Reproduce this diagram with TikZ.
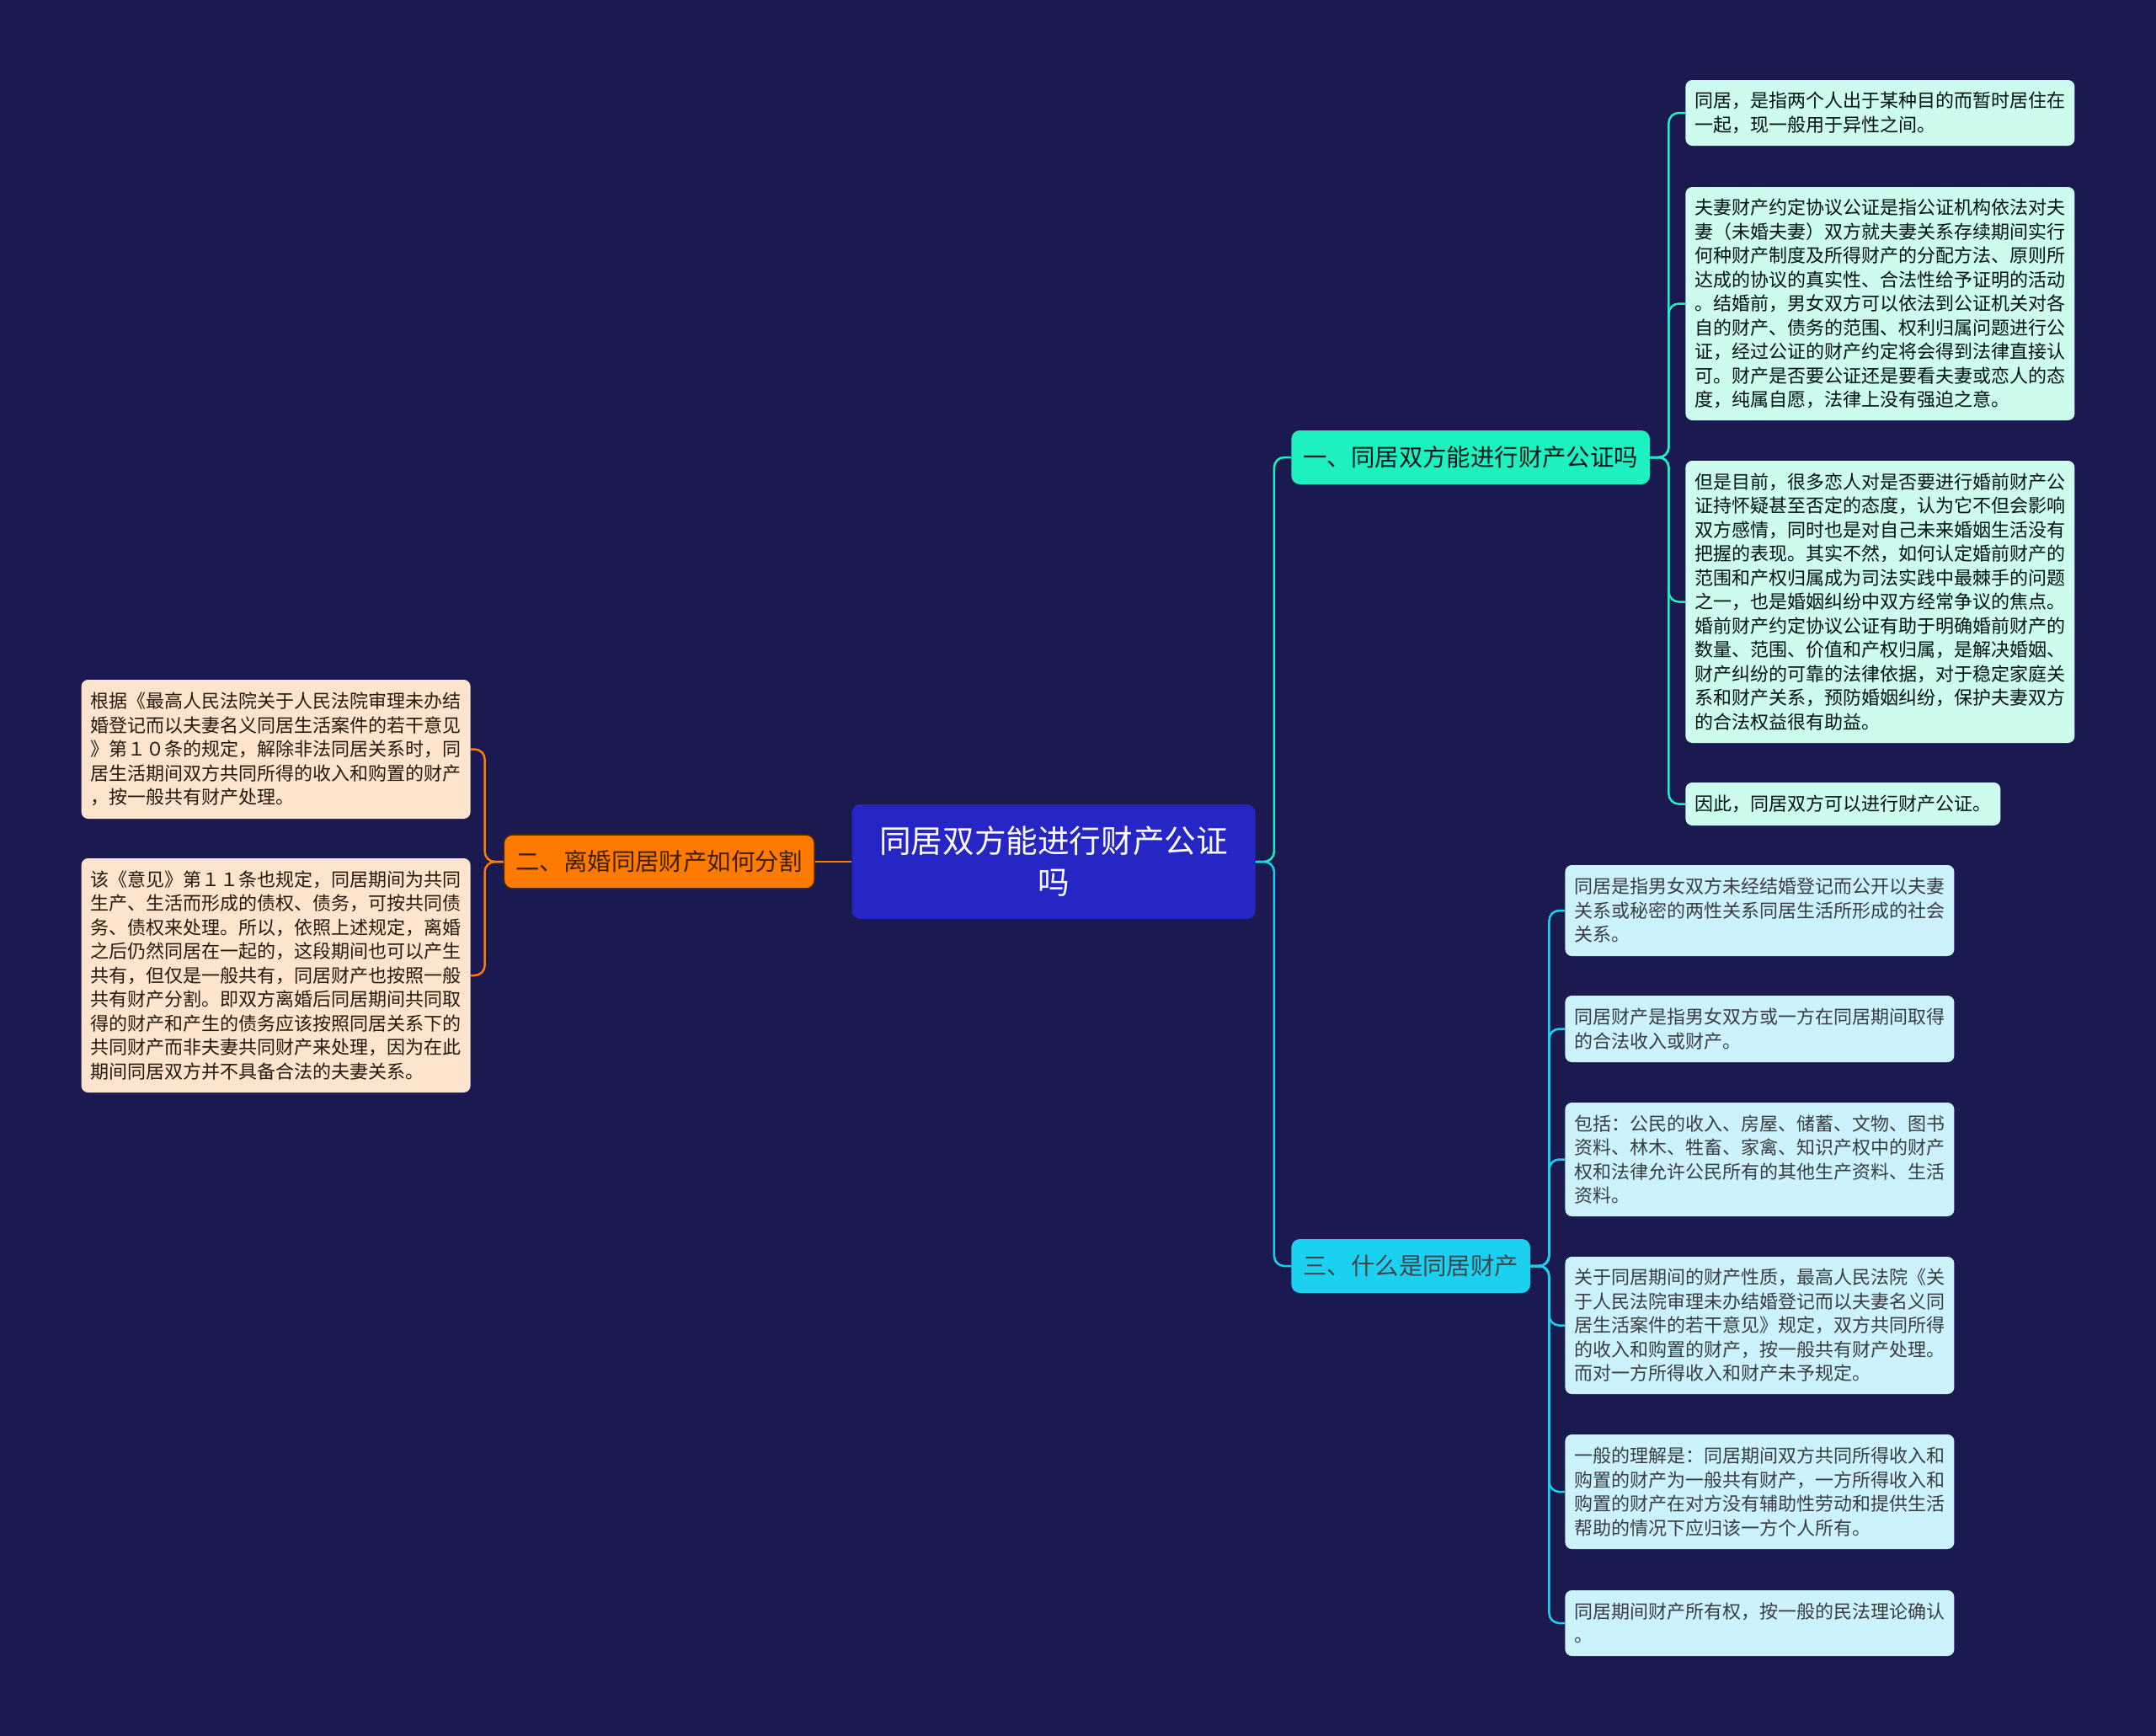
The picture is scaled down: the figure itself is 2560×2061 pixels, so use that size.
\documentclass[tikz,border=0pt]{standalone}
\usepackage{fontspec}
\setmainfont{Noto Sans CJK SC}
\usepackage{xcolor}
\usepackage{tikz}

\definecolor{bgnavy}{HTML}{1B1A50}
\definecolor{rootblue}{HTML}{2626C4}
\definecolor{mintfill}{HTML}{1EF0BF}
\definecolor{cyanfill}{HTML}{1CD0F0}
\definecolor{orangefill}{HTML}{FF7A00}
\definecolor{mintleaf}{HTML}{CDFBEE}
\definecolor{cyanleaf}{HTML}{CCF3FC}
\definecolor{peachleaf}{HTML}{FDE4CC}

\begin{document}
\begin{tikzpicture}[x=0.5pt,y=-0.5pt,
  every node/.style={font=\fontsize{11pt}{14.25pt}\selectfont},
  rootbox/.style={fill=rootblue,text=white,rounded corners=5pt,minimum width=239.5pt,minimum height=68pt,align=center,font=\fontsize{18.8pt}{24.5pt}\selectfont},
  branch/.style={rounded corners=5pt,minimum height=32pt,inner xsep=7pt,font=\fontsize{14.2pt}{17pt}\selectfont},
  leaf/.style={rounded corners=4pt,inner xsep=5.5pt,inner ysep=0pt,align=left},
  link/.style={line width=1.25pt,rounded corners=6pt}]
\fill[bgnavy] (0,0) rectangle (2560,2061);

% centre and main branches
\node[rootbox] (root) at (1251,1023) {同居双方能进行财产公证\\吗};
\node[branch,fill=mintfill,text=black!80!teal,anchor=west] (b1) at (1533,543) {一、同居双方能进行财产公证吗};
\node[branch,fill=cyanfill,text=black!80!cyan,anchor=west] (b3) at (1533,1503) {三、什么是同居财产};
\node[branch,fill=orangefill,draw=black!70!orange,line width=0.8pt,text=black!75!orange,anchor=east] (b2) at (968,1023) {二、离婚同居财产如何分割};

% leaves of branch one
\node[leaf,fill=mintleaf,text=black!85!teal,anchor=west,minimum height=39pt] (a1) at (2001,134) {同居，是指两个人出于某种目的而暂时居住在\\一起，现一般用于异性之间。};
\node[leaf,fill=mintleaf,text=black!85!teal,anchor=west,minimum height=138.5pt] (a2) at (2001,360.5) {夫妻财产约定协议公证是指公证机构依法对夫\\妻（未婚夫妻）双方就夫妻关系存续期间实行\\何种财产制度及所得财产的分配方法、原则所\\达成的协议的真实性、合法性给予证明的活动\\。结婚前，男女双方可以依法到公证机关对各\\自的财产、债务的范围、权利归属问题进行公\\证，经过公证的财产约定将会得到法律直接认\\可。财产是否要公证还是要看夫妻或恋人的态\\度，纯属自愿，法律上没有强迫之意。};
\node[leaf,fill=mintleaf,text=black!85!teal,anchor=west,minimum height=167.5pt] (a3) at (2001,714.5) {但是目前，很多恋人对是否要进行婚前财产公\\证持怀疑甚至否定的态度，认为它不但会影响\\双方感情，同时也是对自己未来婚姻生活没有\\把握的表现。其实不然，如何认定婚前财产的\\范围和产权归属成为司法实践中最棘手的问题\\之一，也是婚姻纠纷中双方经常争议的焦点。\\婚前财产约定协议公证有助于明确婚前财产的\\数量、范围、价值和产权归属，是解决婚姻、\\财产纠纷的可靠的法律依据，对于稳定家庭关\\系和财产关系，预防婚姻纠纷，保护夫妻双方\\的合法权益很有助益。};
\node[leaf,fill=mintleaf,text=black!85!teal,anchor=west,minimum height=25.5pt] (a4) at (2001,954.5) {因此，同居双方可以进行财产公证。};

% leaves of branch three
\node[leaf,fill=cyanleaf,text=black!85!cyan,anchor=west,minimum height=54pt] (c1) at (1858,1081) {同居是指男女双方未经结婚登记而公开以夫妻\\关系或秘密的两性关系同居生活所形成的社会\\关系。};
\node[leaf,fill=cyanleaf,text=black!85!cyan,anchor=west,minimum height=39.5pt] (c2) at (1858,1221.5) {同居财产是指男女双方或一方在同居期间取得\\的合法收入或财产。};
\node[leaf,fill=cyanleaf,text=black!85!cyan,anchor=west,minimum height=67.5pt] (c3) at (1858,1376.5) {包括：公民的收入、房屋、储蓄、文物、图书\\资料、林木、牲畜、家禽、知识产权中的财产\\权和法律允许公民所有的其他生产资料、生活\\资料。};
\node[leaf,fill=cyanleaf,text=black!85!cyan,anchor=west,minimum height=81.5pt] (c4) at (1858,1573.5) {关于同居期间的财产性质，最高人民法院《关\\于人民法院审理未办结婚登记而以夫妻名义同\\居生活案件的若干意见》规定，双方共同所得\\的收入和购置的财产，按一般共有财产处理。\\而对一方所得收入和财产未予规定。};
\node[leaf,fill=cyanleaf,text=black!85!cyan,anchor=west,minimum height=68pt] (c5) at (1858,1771) {一般的理解是：同居期间双方共同所得收入和\\购置的财产为一般共有财产，一方所得收入和\\购置的财产在对方没有辅助性劳动和提供生活\\帮助的情况下应归该一方个人所有。};
\node[leaf,fill=cyanleaf,text=black!85!cyan,anchor=west,minimum height=39pt] (c6) at (1858,1927) {同居期间财产所有权，按一般的民法理论确认\\。};

% leaves of branch two
\node[leaf,fill=peachleaf,text=black!80!brown,anchor=east,minimum height=82.5pt] (d1) at (559,889.5) {根据《最高人民法院关于人民法院审理未办结\\婚登记而以夫妻名义同居生活案件的若干意见\\》第１０条的规定，解除非法同居关系时，同\\居生活期间双方共同所得的收入和购置的财产\\，按一般共有财产处理。};
\node[leaf,fill=peachleaf,text=black!80!brown,anchor=east,minimum height=139pt] (d2) at (559,1158) {该《意见》第１１条也规定，同居期间为共同\\生产、生活而形成的债权、债务，可按共同债\\务、债权来处理。所以，依照上述规定，离婚\\之后仍然同居在一起的，这段期间也可以产生\\共有，但仅是一般共有，同居财产也按照一般\\共有财产分割。即双方离婚后同居期间共同取\\得的财产和产生的债务应该按照同居关系下的\\共同财产而非夫妻共同财产来处理，因为在此\\期间同居双方并不具备合法的夫妻关系。};

% connectors
\draw[link,mintfill] (root.east) -- ++(22,0) |- (b1.west);
\draw[link,cyanfill] (root.east) -- ++(22,0) |- (b3.west);
\draw[link,orangefill] (root.west) -- (b2.east);
\foreach \n in {a1,a2,a3,a4}
  \draw[link,mintfill] (b1.east) -- ++(22,0) |- (\n.west);
\foreach \n in {c1,c2,c3,c4,c5,c6}
  \draw[link,cyanfill] (b3.east) -- ++(22,0) |- (\n.west);
\foreach \n in {d1,d2}
  \draw[link,orangefill] (b2.west) -- ++(-22,0) |- (\n.east);
\end{tikzpicture}
\end{document}
